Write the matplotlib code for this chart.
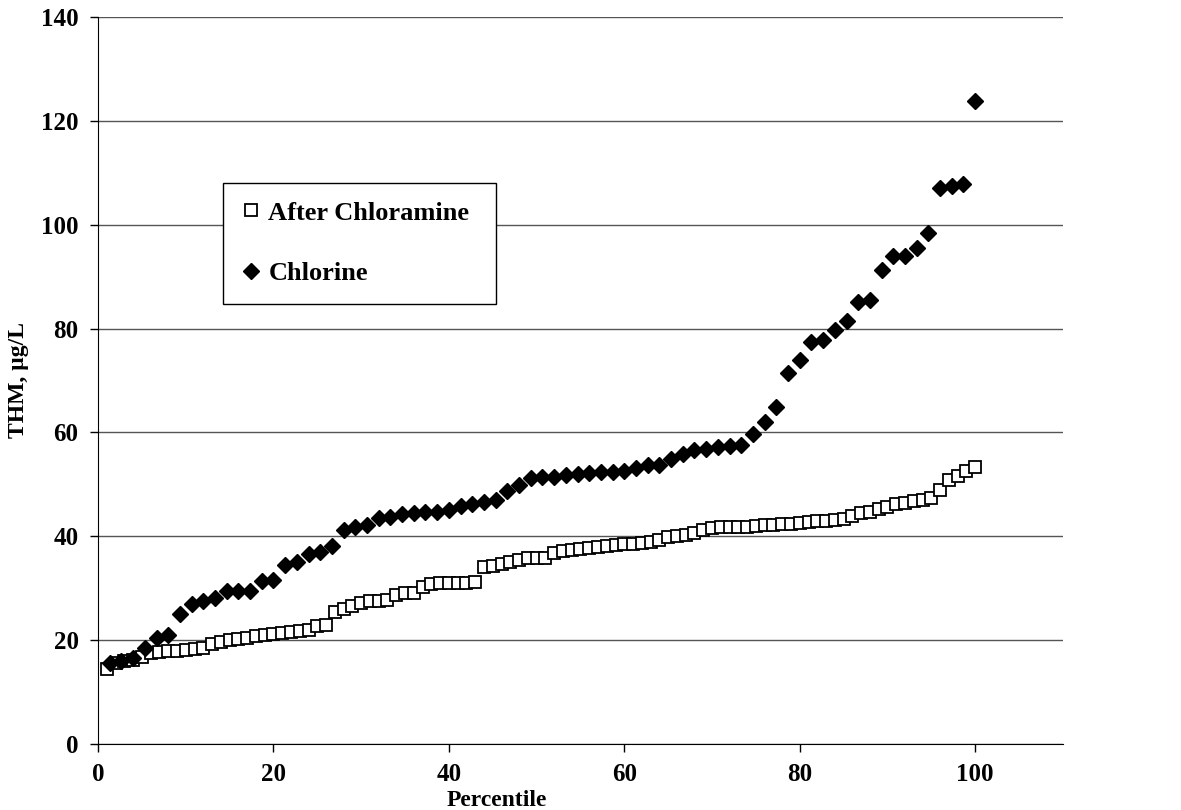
import matplotlib
matplotlib.use('Agg')
import matplotlib.pyplot as plt
import numpy as np

# After chloramine THM values (one per percentile, 1..100)
chloramine = [14.5, 15.5, 16.0, 16.2, 16.8, 17.5, 17.8, 18.0, 18.0, 18.1,
              18.2, 18.4, 19.2, 19.6, 20.0, 20.2, 20.5, 20.8, 21.0, 21.2,
              21.3, 21.5, 21.8, 22.0, 22.8, 23.0, 25.5, 26.0, 26.5, 27.2,
              27.6, 27.6, 27.8, 28.6, 29.0, 29.1, 30.2, 30.8, 31.0, 31.0,
              31.0, 31.0, 31.1, 34.0, 34.2, 34.6, 35.1, 35.5, 35.8, 35.8,
              35.9, 36.8, 37.2, 37.4, 37.6, 37.8, 38.0, 38.2, 38.4, 38.5,
              38.6, 38.8, 38.9, 39.2, 39.8, 40.1, 40.3, 40.7, 41.3, 41.6,
              41.7, 41.7, 41.8, 41.8, 42.0, 42.1, 42.2, 42.3, 42.4, 42.5,
              42.8, 42.9, 43.0, 43.2, 43.4, 44.0, 44.5, 44.7, 45.3, 45.6,
              46.2, 46.5, 46.7, 47.0, 47.4, 48.9, 50.8, 51.6, 52.5, 53.3]

# Chlorine THM values
chlorine = [15.5, 16.0, 16.5, 18.5, 20.5, 21.0, 25.0, 27.0, 27.5, 28.2,
            29.5, 29.4, 29.5, 31.3, 31.5, 34.4, 35.0, 36.5, 37.0, 38.2,
            41.3, 41.8, 42.2, 43.5, 43.8, 44.2, 44.5, 44.6, 44.7, 45.0,
            45.9, 46.2, 46.6, 47.0, 48.8, 49.8, 51.3, 51.4, 51.5, 51.8,
            52.0, 52.2, 52.3, 52.4, 52.6, 53.2, 53.7, 53.8, 54.8, 55.8,
            56.6, 56.8, 57.2, 57.4, 57.5, 59.7, 62.0, 64.8, 71.5, 74.0,
            77.4, 77.8, 79.8, 81.5, 85.2, 85.5, 91.2, 94.0, 94.0, 95.5,
            98.5, 107.0, 107.4, 107.8, 123.8]

pct_chloramine = np.arange(1, len(chloramine) + 1) * 100.0 / len(chloramine)
pct_chlorine = np.arange(1, len(chlorine) + 1) * 100.0 / len(chlorine)

############### Initiate plot #############################################
font = {'family': 'Liberation Serif', 'weight': 'bold', 'size': 18}
matplotlib.rc('font', **font)
matplotlib.rcParams['axes.labelweight'] = 'bold'

fig = plt.figure(figsize=(11.81, 8.10), dpi=100, facecolor='w')
ax = fig.add_axes([0.083, 0.0815, 0.817, 0.8975])

ax.plot(pct_chloramine, chloramine, linestyle='none', marker='s', markersize=9,
        markerfacecolor='white', markeredgecolor='black', markeredgewidth=1.3,
        label='After Chloramine', zorder=3)
ax.plot(pct_chlorine, chlorine, linestyle='none', marker='D', markersize=8.5,
        markerfacecolor='black', markeredgecolor='black',
        label='Chlorine', zorder=3)

ax.set_xlim(0, 110)
ax.set_ylim(0, 140)
ax.set_xticks(range(0, 101, 20))
ax.set_yticks(range(0, 141, 20))
ax.yaxis.grid(True, color='#555555', linewidth=1.0)
ax.set_axisbelow(True)
for side in ['top', 'right']:
    ax.spines[side].set_visible(False)
ax.tick_params(direction='out', length=6, width=1, pad=8, labelsize=18)

ax.set_xlabel('Percentile', fontsize=17)
ax.xaxis.set_label_coords(0.413, -0.063)
ax.set_ylabel('THM, \u00b5g/L', fontsize=17)
ax.yaxis.set_label_coords(-0.072, 0.5)

leg = ax.legend(loc='upper left', bbox_to_anchor=(0.13, 0.605, 0.282, 0.167),
                mode='expand', frameon=True, prop={'size': 19, 'weight': 'bold'},
                fancybox=False, edgecolor='black', framealpha=1,
                handlelength=0.7, handletextpad=0.3, labelspacing=1.4,
                borderpad=0.7, borderaxespad=0, markerscale=1.0)
leg.get_frame().set_linewidth(1.0)

plt.savefig('out.png')
plt.close()
